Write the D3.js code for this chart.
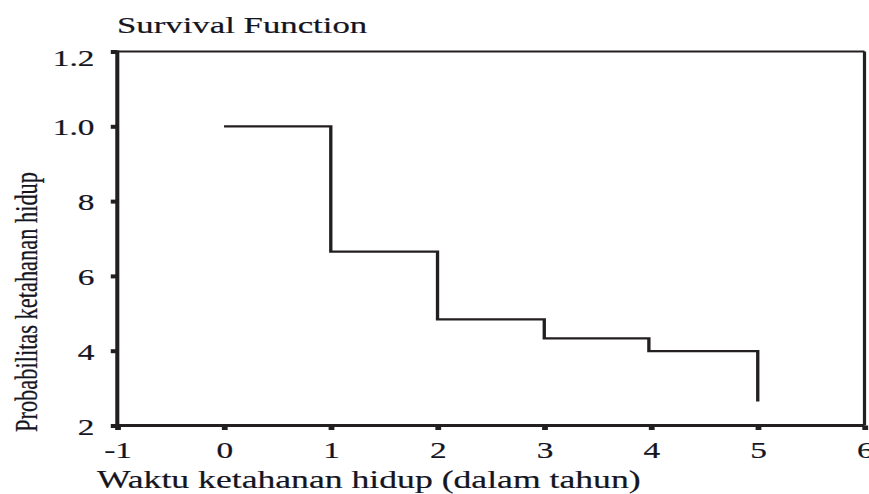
<!DOCTYPE html>
<html><head><meta charset="utf-8">
<script src="https://cdn.jsdelivr.net/npm/d3@7"></script>
<style>html,body{margin:0;padding:0;background:#fff;} svg{display:block;}</style>
</head><body>
<script>
// Data
const times = [0, 1, 2, 3, 3.98, 5];
const survival = [1.0, 0.665, 0.484, 0.433, 0.399, 0.264];
const xTicks = [-1, 0, 1, 2, 3, 4, 5, 6];
const xTickLabels = ["-1", "0", "1", "2", "3", "4", "5", "6"];
const yTicks = [0.2, 0.4, 0.6, 0.8, 1.0, 1.2];
const yTickLabels = ["2", "4", "6", "8", "1.0", "1.2"];
const title = "Survival Function";
const xTitle = "Waktu ketahanan hidup (dalam tahun)";
const yTitle = "Probabilitas ketahanan hidup";

(function () {
const W = 869, H = 494, S = 1.45; // reference picture is stretched horizontally
const ink = "#231f20";
const textInk = "#15151f";
const font = "'Liberation Serif','Times New Roman',serif";

const svg = d3.select("body").append("svg").attr("width", W).attr("height", H);
svg.append("rect").attr("width", W).attr("height", H).attr("fill", "#fff");
const g = svg.append("g").attr("transform", `scale(${S},1)`);

const pLeft = 117.3 / S, pRight = 864.5 / S, pTop = 51.5, pBottom = 425.5;
const x = d3.scaleLinear().domain([-1, 6]).range([pLeft, pRight]);
const y = d3.scaleLinear().domain([0.2, 1.2]).range([pBottom, pTop]);

function inkText(sel) {
  return sel.attr("fill", textInk).attr("stroke", textInk).attr("stroke-width", 0.2);
}

// frame
g.append("line").attr("x1", pLeft).attr("x2", pRight).attr("y1", pTop).attr("y2", pTop)
  .attr("stroke", ink).attr("stroke-width", 2.2);
g.append("line").attr("x1", pRight).attr("x2", pRight).attr("y1", pTop).attr("y2", pBottom)
  .attr("stroke", ink).attr("stroke-width", 2.2);

// axes
const xAxis = g.append("g").attr("transform", `translate(0,${pBottom})`)
  .call(d3.axisBottom(x).tickValues(xTicks).tickSize(4.5)
    .tickFormat((d, i) => xTickLabels[i]));
xAxis.select(".domain").remove();
xAxis.selectAll(".tick line").attr("stroke", ink).attr("stroke-width", 4);
xAxis.attr("font-family", font).attr("font-size", 23);
inkText(xAxis.selectAll(".tick text")).attr("y", 458 - pBottom).attr("dy", "0");

const yAxis = g.append("g").attr("transform", `translate(${pLeft},0)`)
  .call(d3.axisLeft(y).tickValues(yTicks).tickSize(4.5)
    .tickFormat((d, i) => yTickLabels[i]));
yAxis.select(".domain").remove();
yAxis.selectAll(".tick line").attr("stroke", ink).attr("stroke-width", 4);
yAxis.attr("font-family", font).attr("font-size", 23);
inkText(yAxis.selectAll(".tick text"))
  .attr("x", 94.5 / S - pLeft).attr("dy", "0")
  .attr("y", d => d === 1.2 ? 14 : 8.5);

g.append("line").attr("x1", pLeft).attr("x2", pRight).attr("y1", pBottom).attr("y2", pBottom)
  .attr("stroke", ink).attr("stroke-width", 2.8);
g.append("line").attr("x1", pLeft).attr("x2", pLeft).attr("y1", pTop - 1).attr("y2", pBottom + 1.4)
  .attr("stroke", ink).attr("stroke-width", 2.8);

// survival step line
const pts = times.map((t, i) => [t, survival[i]]);
g.append("path").datum(pts)
  .attr("d", d3.line().x(d => x(d[0])).y(d => y(d[1])).curve(d3.curveStepAfter))
  .attr("fill", "none").attr("stroke", ink).attr("stroke-width", 2.3);

// titles
inkText(g.append("text").attr("x", 117 / S).attr("y", 33)
  .attr("font-family", font).attr("font-size", 24)).text(title);
inkText(g.append("text").attr("x", 97 / S).attr("y", 488.5)
  .attr("font-family", font).attr("font-size", 24.6)).text(xTitle);
inkText(g.append("text").attr("transform", `translate(${37 / S},302) rotate(-90)`)
  .attr("text-anchor", "middle")
  .attr("font-family", font).attr("font-size", 22.5)
  .attr("textLength", 260).attr("lengthAdjust", "spacingAndGlyphs")).text(yTitle);
})();
</script>
</body></html>
